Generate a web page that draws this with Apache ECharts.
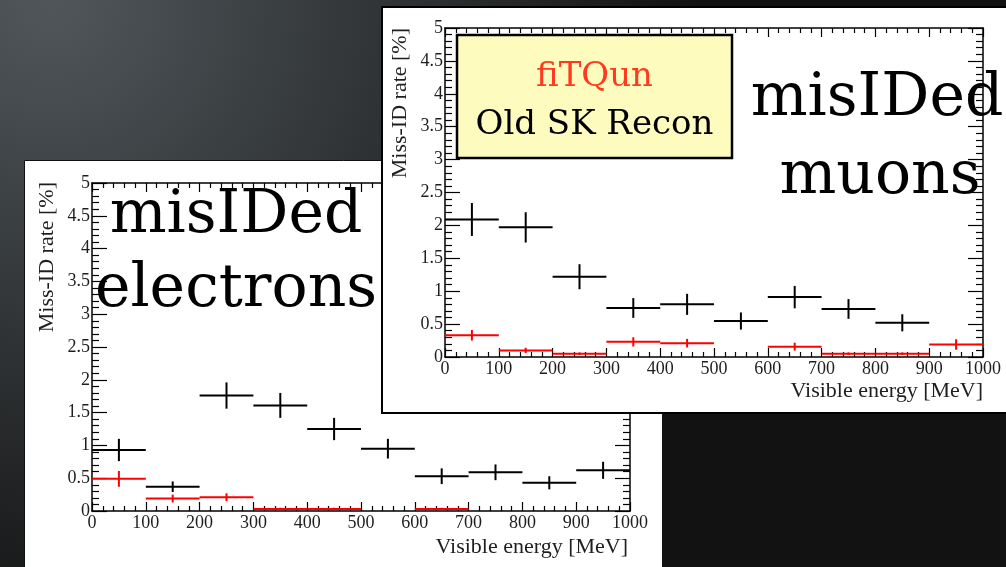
<!DOCTYPE html>
<html><head><meta charset="utf-8">
<script src="https://cdn.jsdelivr.net/npm/echarts@6/dist/echarts.min.js"></script>
<style>html,body{margin:0;padding:0;background:#1a1a1a;}#c{width:1006px;height:567px;}</style>
</head><body><div id="c"></div><script>
// Bins (Visible energy, MeV)
var binLow  = [0,100,200,300,400,500,600,700,800,900];
var binHigh = [100,200,300,400,500,600,700,800,900,1000];
// Tick labels
var xTicks = ['0','100','200','300','400','500','600','700','800','900','1000'];
var yTicks = ['0','0.5','1','1.5','2','2.5','3','3.5','4','4.5','5'];
// misIDed electrons (%)
var eOldVal = [0.93,0.37,1.76,1.61,1.25,0.95,0.53,0.59,0.43,0.62];
var eOldErr = [0.17,0.08,0.20,0.19,0.17,0.15,0.12,0.12,0.10,0.13];
var eFitVal = [0.49,0.19,0.21,0.03,0.03,null,0.03,null,null,null];
var eFitErr = [0.12,0.06,0.06,0.02,0.02,null,0.02,null,null,null];
// misIDed muons (%)
var mOldVal = [2.09,1.97,1.22,0.745,0.80,0.547,0.91,0.73,0.52,null];
var mOldErr = [0.25,0.23,0.19,0.15,0.16,0.13,0.17,0.15,0.13,null];
var mFitVal = [0.33,0.10,0.05,0.23,0.21,null,0.157,0.05,0.05,0.19];
var mFitErr = [0.08,0.04,0.02,0.07,0.065,null,0.06,0.02,0.02,0.08];

function rows(vals, errs){
  var out = [];
  for (var i = 0; i < vals.length; i++) {
    if (vals[i] === null) continue;
    out.push([binLow[i], binHigh[i], vals[i], errs[i]]);
  }
  return out;
}
function renderErr(params, api){
  var lo = api.value(0), hi = api.value(1), v = api.value(2), e = api.value(3);
  var c = (lo + hi) / 2;
  var pL = api.coord([lo, v]), pR = api.coord([hi, v]);
  var pT = api.coord([c, v + e]), pB = api.coord([c, v - e]);
  var st = {stroke: api.visual('color'), lineWidth: 2};
  return {type: 'group', children: [
    {type: 'line', shape: {x1: pL[0], y1: pL[1], x2: pR[0], y2: pR[1]}, style: st},
    {type: 'line', shape: {x1: pT[0], y1: pT[1], x2: pB[0], y2: pB[1]}, style: st}
  ]};
}
var labelFont = {fontFamily: 'Liberation Serif', fontSize: 18, color: '#1e1e1e'};
function xAx(gi, pos, showLabel, zl){
  return {type: 'value', gridIndex: gi, position: pos, min: 0, max: 1000, interval: 100,
    zlevel: zl, z: 3,
    axisLine: {show: true, onZero: false, lineStyle: {color: '#000', width: 1.5}},
    axisTick: {show: true, inside: true, length: 9, lineStyle: {color: '#000', width: 1.2}},
    minorTick: {show: true, splitNumber: 5, length: 5, lineStyle: {color: '#000', width: 1.2}},
    splitLine: {show: false},
    axisLabel: Object.assign({show: showLabel, margin: 3,
      formatter: function(v){ return xTicks[Math.round(v / 100)]; }}, labelFont)
  };
}
function yAx(gi, pos, showLabel, zl){
  return {type: 'value', gridIndex: gi, position: pos, min: 0, max: 5, interval: 0.5,
    zlevel: zl, z: 3,
    axisLine: {show: true, onZero: false, lineStyle: {color: '#000', width: 1.5}},
    axisTick: {show: true, inside: true, length: 15, lineStyle: {color: '#000', width: 1.2}},
    minorTick: {show: true, splitNumber: 5, length: 7, lineStyle: {color: '#000', width: 1.2}},
    splitLine: {show: false},
    axisLabel: Object.assign({show: showLabel, margin: 2,
      formatter: function(v){ return yTicks[Math.round(v / 0.5)]; }}, labelFont)
  };
}
var serif = '"DejaVu Serif"';
function txt(x, y, s, font, fill, align, zl, rot){
  var el = {type: 'text', x: x, y: y, zlevel: zl, z: 10,
    style: {text: s, font: font, fill: fill, textAlign: align, align: align,
      textVerticalAlign: 'middle', verticalAlign: 'middle'}};
  if (rot) el.rotation = rot;
  return el;
}
var chart = echarts.init(document.getElementById('c'));
chart.setOption({
  animation: false,
  backgroundColor: {type: 'radial', x: 0.05, y: 0.0, r: 1.15,
    colorStops: [{offset: 0, color: '#50575b'}, {offset: 0.55, color: '#2e3133'}, {offset: 1, color: '#121212'}]},
  grid: [
    {left: 92, top: 183, width: 538, height: 328, show: false, zlevel: 0, z: 2},
    {left: 445, top: 28, width: 538, height: 329, show: false, zlevel: 1, z: 2}
  ],
  xAxis: [xAx(0, 'bottom', true, 0), xAx(0, 'top', false, 0), xAx(1, 'bottom', true, 1), xAx(1, 'top', false, 1)],
  yAxis: [yAx(0, 'left', true, 0), yAx(0, 'right', false, 0), yAx(1, 'left', true, 1), yAx(1, 'right', false, 1)],
  graphic: {elements: [
    {type: 'rect', zlevel: 0, z: 0, shape: {x: 24.5, y: 160.5, width: 638, height: 420},
      style: {fill: '#fff', stroke: '#111', lineWidth: 1}},
    txt(236, 216, 'misIDed', '60px ' + serif, '#000', 'center', 0),
    txt(236, 290, 'electrons', '60px ' + serif, '#000', 'center', 0),
    txt(47, 182, 'Miss-ID rate [%]', '22px "Liberation Serif"', '#1e1e1e', 'right', 0, Math.PI / 2),
    txt(628, 547, 'Visible energy [MeV]', '22px "Liberation Serif"', '#1e1e1e', 'right', 0),
    {type: 'rect', zlevel: 1, z: 0, shape: {x: 382, y: 7, width: 630, height: 406},
      style: {fill: '#fff', stroke: '#000', lineWidth: 2}},
    txt(400, 28, 'Miss-ID rate [%]', '22px "Liberation Serif"', '#1e1e1e', 'right', 1, Math.PI / 2),
    txt(983, 391, 'Visible energy [MeV]', '22px "Liberation Serif"', '#1e1e1e', 'right', 1),
    {type: 'rect', zlevel: 1, z: 8, shape: {x: 457, y: 35, width: 275, height: 123},
      style: {fill: '#fdfbbd', stroke: '#000', lineWidth: 2.5}},
    txt(594.5, 77, 'fiTQun', '34px ' + serif, '#ff3b1f', 'center', 1),
    txt(594.5, 125, 'Old SK Recon', '34px ' + serif, '#000', 'center', 1),
    txt(877, 99, 'misIDed', '60px ' + serif, '#000', 'center', 1),
    txt(880, 177, 'muons', '60px ' + serif, '#000', 'center', 1)
  ]},
  series: [
    {name: 'Old SK Recon', type: 'custom', xAxisIndex: 0, yAxisIndex: 0, zlevel: 0, z: 4,
      itemStyle: {color: '#000'}, renderItem: renderErr, data: rows(eOldVal, eOldErr)},
    {name: 'fiTQun', type: 'custom', xAxisIndex: 0, yAxisIndex: 0, zlevel: 0, z: 5,
      itemStyle: {color: '#ff0000'}, renderItem: renderErr, data: rows(eFitVal, eFitErr)},
    {name: 'Old SK Recon', type: 'custom', xAxisIndex: 2, yAxisIndex: 2, zlevel: 1, z: 4,
      itemStyle: {color: '#000'}, renderItem: renderErr, data: rows(mOldVal, mOldErr)},
    {name: 'fiTQun', type: 'custom', xAxisIndex: 2, yAxisIndex: 2, zlevel: 1, z: 5,
      itemStyle: {color: '#ff0000'}, renderItem: renderErr, data: rows(mFitVal, mFitErr)}
  ]
});
</script></body></html>
